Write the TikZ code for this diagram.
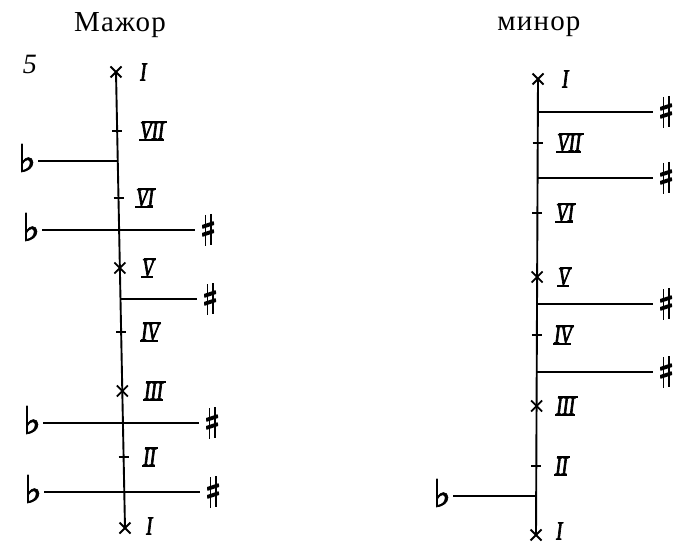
\documentclass[tikz,border=0pt]{standalone}
\usepackage{fontspec}
\setmainfont{Liberation Serif}
\newfontfamily\symfont[FakeBold=2]{DejaVu Sans}
\newfontfamily\titlefont[LetterSpace=4]{Liberation Serif}
\newfontfamily\rnfont[FakeStretch=0.72,FakeBold=2.5]{Liberation Serif}
\newcommand\rnbars[1]{\draw[rnbar] ([xshift=2.4pt]#1.north west) -- ([xshift=2.4pt]#1.north east) ([xshift=-0.6pt]#1.south west) -- ([xshift=-0.6pt]#1.south east);}
\newcommand\crossat[1]{\draw[crossline] ([shift={(-5.5,-5.5)}]#1) -- ([shift={(5.5,5.5)}]#1) ([shift={(-5.5,5.5)}]#1) -- ([shift={(5.5,-5.5)}]#1);}
\newcommand\tickat[1]{\draw[tickline] ([xshift=-5pt]#1) -- ([xshift=5pt]#1);}
\begin{document}
\begin{tikzpicture}[x=1pt,y=-1pt,
  spine/.style={line width=1.9pt},
  hline/.style={line width=1.4pt},
  crossline/.style={line width=1.8pt},
  tickline/.style={line width=1.3pt},
  rnbar/.style={line width=1.8pt},
  rn/.style={font=\rnfont\itshape\fontsize{26}{26}\selectfont, inner sep=0pt, anchor=west},
  flatsym/.style={font=\symfont\fontsize{38}{38}\selectfont, inner sep=2pt},
  sharpsym/.style={minimum width=12pt, minimum height=32pt, inner sep=0pt, outer sep=7pt,
    path picture={
      \draw[line width=1.8pt] ([xshift=-2.6pt,yshift=15pt]path picture bounding box.center) -- ([xshift=-2.6pt,yshift=-16pt]path picture bounding box.center);
      \draw[line width=1.8pt] ([xshift=2.6pt,yshift=16pt]path picture bounding box.center) -- ([xshift=2.6pt,yshift=-15pt]path picture bounding box.center);
      \draw[line width=3.8pt] ([xshift=-6pt,yshift=3pt]path picture bounding box.center) -- ([xshift=6pt,yshift=7pt]path picture bounding box.center);
      \draw[line width=3.8pt] ([xshift=-6pt,yshift=-5pt]path picture bounding box.center) -- ([xshift=6pt,yshift=-1pt]path picture bounding box.center);
    }},
  title/.style={font=\titlefont\fontsize{29}{29}\selectfont, inner sep=0pt}]
\useasboundingbox (0,0) rectangle (674,545);
% titles
\node[title] (tMaj) at (120,25) {Мажор};
\node[title] (tMin) at (539,27) {минор};
\node[font=\fontsize{28}{28}\selectfont\itshape, inner sep=0pt] (num) at (30,64) {5};
% ---------- left (major) ----------
\coordinate (L0) at (116,72);
\coordinate (L7) at (117.2,131);
\coordinate (Lb1) at (117.8,161);
\coordinate (L6) at (118.5,198);
\coordinate (Lh2) at (119.1,230);
\coordinate (L5) at (119.9,268);
\coordinate (Lh3) at (120.5,299);
\coordinate (L4) at (121.1,332);
\coordinate (L3) at (122.3,391);
\coordinate (Lh4) at (122.9,423);
\coordinate (L2) at (123.6,457);
\coordinate (Lh5) at (124.3,492);
\coordinate (L1) at (125,528);
\draw[spine] (L0) -- (L1);
\crossat{L0}\crossat{L5}\crossat{L3}\crossat{L1}
\tickat{L7}\tickat{L6}\tickat{L4}\tickat{L2}
\node[flatsym] (fL1) at (27,158) {♭};
\node[flatsym] (fL2) at (31,227) {♭};
\node[flatsym] (fL4) at (32,420) {♭};
\node[flatsym] (fL5) at (33,489) {♭};
\node[sharpsym] (sL2) at (208,230) {};
\node[sharpsym] (sL3) at (210,299) {};
\node[sharpsym] (sL4) at (212,423) {};
\node[sharpsym] (sL5) at (213,492) {};
\draw[hline] (fL1.east |- Lb1) -- (Lb1);
\draw[hline] (fL2.east |- Lh2) -- (sL2.west |- Lh2);
\draw[hline] (Lh3) -- (sL3.west |- Lh3);
\draw[hline] (fL4.east |- Lh4) -- (sL4.west |- Lh4);
\draw[hline] (fL5.east |- Lh5) -- (sL5.west |- Lh5);
\node[rn] (lI) at (140,72) {I};
\node[rn] (lVII) at (140,131) {VII}; \rnbars{lVII}
\node[rn] (lVI) at (136,198) {VI}; \rnbars{lVI}
\node[rn] (lV) at (142,268) {V}; \rnbars{lV}
\node[rn] (lIV) at (141,332) {IV}; \rnbars{lIV}
\node[rn] (lIII) at (144,391) {III}; \rnbars{lIII}
\node[rn] (lII) at (143,457) {II}; \rnbars{lII}
\node[rn] (lIb) at (146,526) {I};
% ---------- right (minor) ----------
\coordinate (R0) at (538,79);
\coordinate (Rh1) at (537.9,112);
\coordinate (R7) at (537.7,143);
\coordinate (Rh2) at (537.6,178);
\coordinate (R6) at (537.4,213);
\coordinate (R5) at (537.1,277);
\coordinate (Rh3) at (537,304);
\coordinate (R4) at (536.9,335);
\coordinate (Rh4) at (536.7,372);
\coordinate (R3) at (536.6,406);
\coordinate (R2) at (536.3,466);
\coordinate (Rb5) at (536.2,496);
\coordinate (R1) at (536,535);
\draw[spine] (R0) -- (R1);
\crossat{R0}\crossat{R5}\crossat{R3}\crossat{R1}
\tickat{R7}\tickat{R6}\tickat{R4}\tickat{R2}
\node[sharpsym] (sR1) at (666,112) {};
\node[sharpsym] (sR2) at (666,178) {};
\node[sharpsym] (sR3) at (666,304) {};
\node[sharpsym] (sR4) at (666,372) {};
\node[flatsym] (fR5) at (442,493) {♭};
\draw[hline] (Rh1) -- (sR1.west |- Rh1);
\draw[hline] (Rh2) -- (sR2.west |- Rh2);
\draw[hline] (Rh3) -- (sR3.west |- Rh3);
\draw[hline] (Rh4) -- (sR4.west |- Rh4);
\draw[hline] (fR5.east |- Rb5) -- (Rb5);
\node[rn] (rI) at (562,79) {I};
\node[rn] (rVII) at (557,143) {VII}; \rnbars{rVII}
\node[rn] (rVI) at (556,213) {VI}; \rnbars{rVI}
\node[rn] (rV) at (558,277) {V}; \rnbars{rV}
\node[rn] (rIV) at (554,335) {IV}; \rnbars{rIV}
\node[rn] (rIII) at (556,406) {III}; \rnbars{rIII}
\node[rn] (rII) at (555,466) {II}; \rnbars{rII}
\node[rn] (rIb) at (556,531) {I};
\end{tikzpicture}
\end{document}
